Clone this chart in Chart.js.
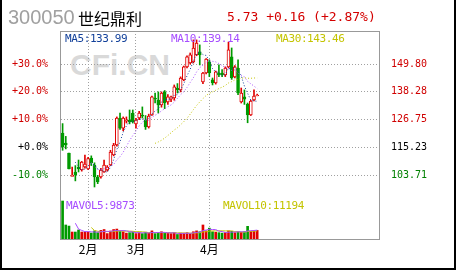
<!DOCTYPE html>
<html>
<head>
<meta charset="utf-8">
<script src="https://cdn.jsdelivr.net/npm/chart.js@4.4.1/dist/chart.umd.min.js"></script>
<style>
  html, body { margin: 0; padding: 0; background: #fff; }
  #wrap { position: relative; width: 460px; height: 270px; overflow: hidden; }
  #kline { position: absolute; left: 0; top: 0; z-index: 2; }
  .t { position: absolute; white-space: pre; line-height: 1; z-index: 3; }
  #code { left: 8px; top: 6px; font: 20px "Liberation Sans", Arial, sans-serif; color: #a0a0a0; }
  #name { left: 78px; top: 6px; font: 16px "Noto Sans CJK SC", sans-serif; color: #000; }
  #quote { left: 227px; top: 9px; font: 13px "DejaVu Sans Mono", monospace; color: #d40000; }
  .leg { font: 11px "DejaVu Sans Mono", monospace; letter-spacing: -0.4px; line-height: 11px; }
  #wm { position: absolute; left: 70px; top: 50px; font: bold 30px "Liberation Sans", Arial, sans-serif;
        color: #d9d9d9; line-height: 30px; z-index: 1; }
</style>
</head>
<body>
<div id="wrap">
  <div class="t" id="code">300050</div>
  <div class="t" id="name">世纪鼎利</div>
  <div class="t" id="quote">5.73 +0.16 (+2.87%)</div>
  <div id="wm">CFi.CN</div>
  <div class="t leg" style="left:65px;top:33px;color:#12409a">MA5:133.99</div>
  <div class="t leg" style="left:171px;top:33px;color:#a64dff">MA10:139.14</div>
  <div class="t leg" style="left:276px;top:33px;color:#c4c400">MA30:143.46</div>
  <div class="t leg" style="left:66px;top:200px;color:#a64dff">MAVOL5:9873</div>
  <div class="t leg" style="left:223px;top:200px;color:#c4c400">MAVOL10:11194</div>
  <canvas id="kline" width="460" height="270"></canvas>
</div>
<script>
// ---- data: daily candles, % change against the base close ----
const basePrice = 115.23;
const slotCount = 100;               // trading-day slots on the x axis
const monthStarts = [8, 23, 46];
const monthNames = ["2月", "3月", "4月"];
const pctTicks = [-10, 0, 10, 20, 30];

const opens = [5.2, 1.6, -2.0, -10.3, -8.8, -7.0, -8.1, -7.0, -7.7, -3.8,
  -6.3, -10.6, -10.6, -8.8, -8.1, -6.3, -2.7, 0.9, 10.6, 7.0,
  9.5, 9.9, 12.4, 8.5, 10.6, 11.7, 9.9, 7.4, 11.7, 17.8,
  17.1, 15.3, 20.0, 16.4, 17.4, 17.8, 21.4, 20.7, 24.3, 29.0,
  30.4, 30.8, 33.3, 34.4, 23.6, 26.8, 30.8, 24.3, 23.2, 26.8,
  26.8, 26.1, 29.0, 32.6, 25.4, 28.6, 16.4, 18.2, 15.6, 11.7,
  17.1, 18.9];
const closes = [0.2, 0.9, -7.7, -10.0, -9.9, -7.7, -5.2, -6.0, -4.0, -5.5,
  -10.6, -12.4, -8.1, -6.3, -7.0, -1.6, 0.9, 10.6, 7.0, 10.6,
  9.9, 9.2, 9.2, 9.9, 12.4, 11.3, 7.4, 11.3, 18.2, 17.4,
  15.3, 19.6, 16.0, 18.2, 18.2, 21.8, 20.7, 25.0, 29.0, 32.6,
  33.3, 35.8, 37.6, 33.3, 26.8, 31.8, 26.8, 23.2, 27.2, 26.1,
  26.1, 28.6, 35.1, 25.0, 29.0, 19.6, 19.6, 17.4, 11.7, 16.7,
  18.5, 18.9];
const highs = [8.6, 4.0, -2.0, -7.0, -6.5, -4.5, -5.0, -2.7, -3.5, -3.0,
  -5.5, -10.0, -7.5, -4.5, -6.5, -1.0, 1.5, 11.0, 12.4, 11.0,
  11.0, 13.5, 13.5, 10.5, 13.0, 14.6, 11.5, 12.0, 18.5, 19.6,
  20.0, 20.0, 20.5, 19.0, 18.5, 22.5, 23.0, 25.4, 29.3, 33.0,
  34.0, 38.7, 38.7, 36.9, 27.0, 32.0, 31.5, 25.0, 27.5, 29.7,
  28.0, 29.0, 37.9, 35.8, 29.5, 31.5, 21.4, 20.7, 16.0, 17.0,
  20.7, 19.2];
const lows = [-1.0, -0.5, -7.7, -10.3, -12.0, -8.8, -8.5, -7.4, -8.0, -6.5,
  -14.2, -13.0, -11.0, -9.0, -8.5, -6.5, -3.0, 0.5, 6.5, 6.0,
  8.8, 8.5, 8.8, 7.0, 10.0, 10.6, 6.5, 7.0, 11.5, 16.0,
  12.4, 14.5, 14.0, 15.5, 16.5, 17.0, 19.6, 20.0, 24.0, 28.6,
  30.0, 30.4, 33.0, 29.7, 23.0, 26.5, 25.5, 22.5, 22.8, 25.5,
  25.5, 25.5, 28.6, 24.5, 25.0, 19.0, 16.0, 15.5, 8.9, 11.5,
  16.8, 18.6];
const volumes = [42000, 15500, 14300, 7700, 7700, 10000, 7700, 7700, 7700, 6600,
  9000, 7000, 9500, 10500, 6000, 8800, 10500, 11000, 8800, 8000,
  6500, 7000, 8000, 6000, 7000, 6000, 7500, 6500, 9000, 6000,
  7000, 8000, 6500, 6500, 6000, 7000, 5000, 6500, 6500, 7000,
  6000, 8000, 9000, 8000, 15500, 9000, 12000, 8000, 7500, 7000,
  6500, 7000, 9000, 8500, 7000, 8000, 7500, 8000, 14000, 8500,
  9000, 9500];

// moving averages
const ma5 = [null, null, null, null, -5.3, -6.9, -8.1, -7.8, -6.6, -5.7,
  -6.3, -7.7, -8.1, -8.6, -8.9, -7.1, -4.4, -0.7, 2.0, 5.5,
  7.8, 9.5, 9.2, 9.8, 10.1, 10.4, 10.0, 10.5, 12.1, 13.1,
  13.9, 16.4, 17.3, 17.3, 17.5, 18.8, 19.0, 20.8, 22.9, 25.8,
  28.1, 31.1, 33.7, 34.5, 33.4, 33.1, 31.3, 28.4, 27.2, 27.0,
  25.9, 26.2, 28.6, 28.2, 28.8, 27.5, 25.7, 22.1, 19.5, 17.0,
  16.8, 16.6];
const ma10 = [null, null, null, null, null, null, null, null, null, -5.5,
  -6.6, -7.9, -7.9, -7.6, -7.3, -6.7, -6.1, -4.4, -3.3, -1.7,
  0.4, 2.5, 4.3, 5.9, 7.8, 9.1, 9.8, 9.8, 10.9, 11.6,
  12.2, 13.2, 13.9, 14.7, 15.3, 16.3, 17.7, 19.0, 20.1, 21.6,
  23.4, 25.1, 27.2, 28.7, 29.6, 30.6, 31.2, 31.0, 30.8, 30.2,
  29.5, 28.8, 28.5, 27.7, 27.9, 26.7, 26.0, 25.4, 23.8, 22.9,
  22.1, 21.2];
const ma30 = Array(29).fill(null).concat([1.5,
  2.0, 2.6, 3.4, 4.3, 5.3, 6.3, 7.1, 8.2, 9.3, 10.5,
  12.0, 13.6, 15.1, 16.4, 17.6, 18.7, 19.5, 20.0, 20.6, 21.2,
  21.7, 22.3, 23.2, 23.7, 24.3, 24.5, 24.9, 25.1, 24.9, 24.9,
  25.0, 25.0]);
const volMa5 = [null, null, null, null, 17440, 11040, 9480, 8160, 8160, 7940,
  7740, 7600, 7960, 8520, 8400, 8360, 9060, 9360, 9020, 9420,
  8960, 8260, 7660, 7100, 6900, 6800, 6900, 6600, 7200, 7000,
  7200, 7300, 7300, 6800, 6800, 6800, 6200, 6200, 6200, 6400,
  6200, 6800, 7300, 7600, 9300, 9900, 10700, 10500, 10400, 8700,
  8200, 7200, 7400, 7600, 7600, 7900, 8000, 7800, 8900, 9200,
  9400, 9800];
const volMa10 = [null, null, null, null, null, null, null, null, null, 12690,
  9390, 8540, 8060, 8340, 8170, 8050, 8330, 8660, 8770, 8910,
  8660, 8660, 8510, 8060, 8160, 7880, 7580, 7130, 7150, 6950,
  7000, 7100, 6950, 7000, 6900, 7000, 6750, 6750, 6500, 6600,
  6500, 6500, 6750, 6900, 7850, 8050, 8750, 8900, 9000, 9000,
  9050, 8950, 8950, 9000, 8150, 8050, 7600, 7600, 8250, 8400,
  8650, 8900];

const RED = "#e00000";
const GREEN = "#009a00";
const GRID = "#a0a0a0";

const isUp = closes.map((c, i) => c >= opens[i]);
const slots = Array.from({ length: slotCount }, (_, i) => i);

function tickColor(v) {
  if (v > 0) return "#d00000";
  if (v < 0) return "#008000";
  return "#000";
}

const framePlugin = {
  id: "frame",
  afterDraw(chart) {
    const { ctx, chartArea: a } = chart;
    ctx.save();
    ctx.strokeStyle = "#999";
    ctx.lineWidth = 1;
    ctx.strokeRect(Math.round(a.left) - 0.5, Math.round(a.top) + 0.5,
      Math.round(a.right - a.left), Math.round(a.bottom - a.top));
    ctx.fillStyle = "#000";
    ctx.fillRect(0, 0, 2, 270);
    ctx.fillRect(454, 0, 2, 270);
    ctx.fillRect(0, 268, 456, 2);
    ctx.restore();
  }
};

new Chart(document.getElementById("kline"), {
  data: {
    labels: slots,
    datasets: [
      { type: "line", data: ma5, yAxisID: "y", borderColor: "#12409a", borderWidth: 1,
        borderDash: [1, 2], pointRadius: 0, order: 1 },
      { type: "line", data: ma10, yAxisID: "y", borderColor: "#a64dff", borderWidth: 1,
        borderDash: [1, 2], pointRadius: 0, order: 1 },
      { type: "line", data: ma30, yAxisID: "y", borderColor: "#c4c400", borderWidth: 1,
        borderDash: [1, 2], pointRadius: 0, order: 1 },
      { type: "line", data: volMa5, yAxisID: "yv", borderColor: "#a64dff", borderWidth: 1,
        pointRadius: 0, order: 1 },
      { type: "line", data: volMa10, yAxisID: "yv", borderColor: "#c4c400", borderWidth: 1,
        pointRadius: 0, order: 1 },
      { type: "bar", data: opens.map((o, i) => [o, closes[i]]), yAxisID: "y", grouped: false,
        barThickness: 3, minBarLength: 1, borderWidth: 1, borderSkipped: false,
        backgroundColor: isUp.map(u => u ? "#fff" : GREEN),
        borderColor: isUp.map(u => u ? RED : GREEN), order: 2 },
      { type: "bar", data: lows.map((l, i) => [l, highs[i]]), yAxisID: "y", grouped: false,
        barThickness: 1, backgroundColor: isUp.map(u => u ? RED : GREEN), order: 3 },
      { type: "bar", data: volumes, yAxisID: "yv", grouped: false, barThickness: 2,
        backgroundColor: isUp.map(u => u ? RED : GREEN), order: 4 }
    ]
  },
  options: {
    responsive: false,
    animation: false,
    layout: { padding: { left: 0, right: 0, top: 31, bottom: 0 } },
    plugins: { legend: { display: false }, tooltip: { enabled: false } },
    scales: {
      x: {
        type: "category",
        offset: true,
        grid: {
          offset: false,
          drawTicks: false,
          color: ctx => monthStarts.includes(ctx.index) ? GRID : "transparent"
        },
        border: { display: false, dash: [1, 2] },
        ticks: {
          autoSkip: false, maxRotation: 0, padding: 3, color: "#000",
          font: { family: "Noto Sans CJK SC", size: 12 },
          callback: (v, i) => {
            const k = monthStarts.indexOf(i);
            return k >= 0 ? monthNames[k] : "";
          }
        },
        afterFit: s => { s.height = 31; }
      },
      y: {
        position: "left",
        min: -32.9, max: 41.9,
        afterBuildTicks: s => { s.ticks = pctTicks.map(v => ({ value: v })); },
        grid: { color: GRID, drawTicks: false },
        border: { display: false, dash: [1, 2] },
        ticks: {
          padding: 13,
          font: { family: "DejaVu Sans Mono", size: 10 },
          color: ctx => tickColor(ctx.tick.value),
          callback: v => (v >= 0 ? "+" : "") + v.toFixed(1) + "%"
        },
        afterFit: s => { s.width = 61; }
      },
      yR: {
        position: "right",
        min: -32.9, max: 41.9,
        afterBuildTicks: s => { s.ticks = pctTicks.map(v => ({ value: v })); },
        grid: { display: false },
        border: { display: false },
        ticks: {
          padding: 3,
          font: { family: "DejaVu Sans Mono", size: 10 },
          color: ctx => tickColor(ctx.tick.value),
          callback: v => (basePrice * (1 + v / 100)).toFixed(2)
        },
        afterFit: s => { s.width = 80; }
      },
      yv: { display: false, min: 0, max: 230000 }
    }
  },
  plugins: [framePlugin]
});
</script>
</body>
</html>
